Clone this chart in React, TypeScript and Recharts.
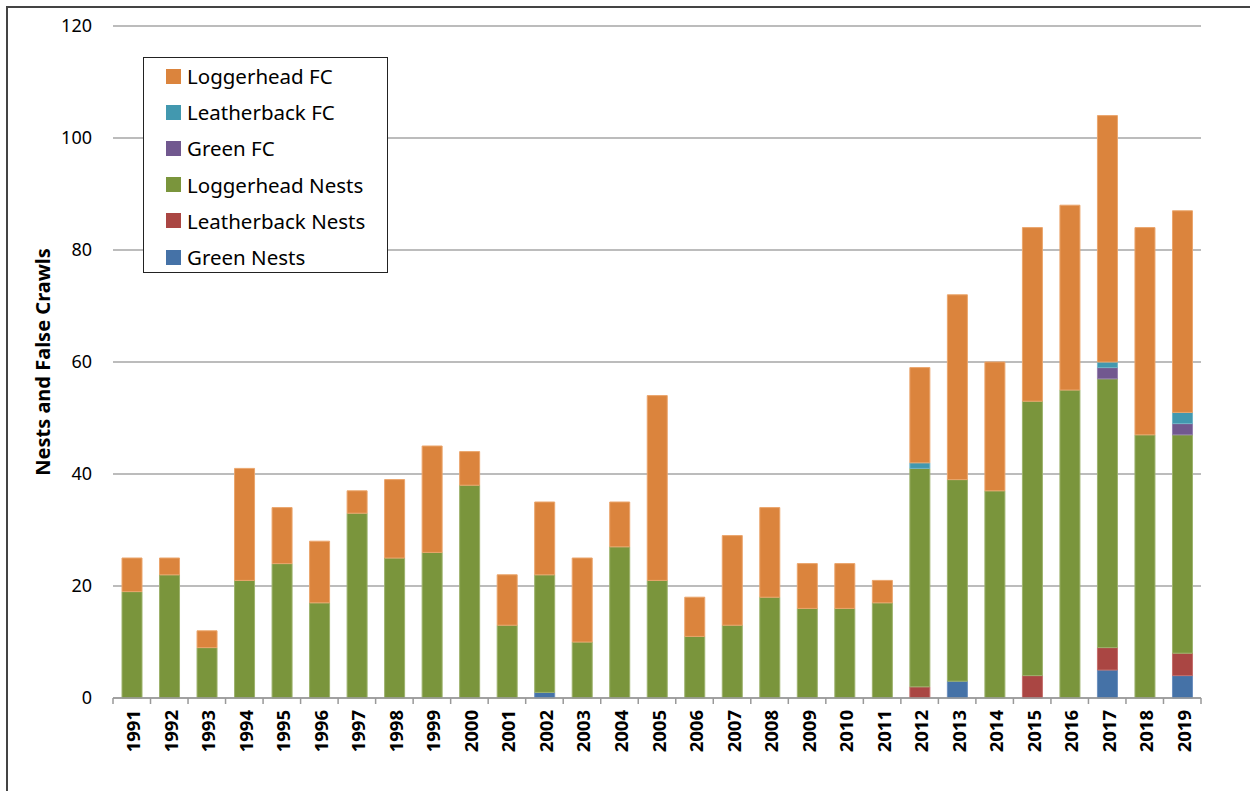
import React from "react";
import { BarChart, Bar, XAxis, YAxis, CartesianGrid, Legend, Label } from "recharts";

const years = ["1991","1992","1993","1994","1995","1996","1997","1998","1999","2000","2001","2002","2003","2004","2005","2006","2007","2008","2009","2010","2011","2012","2013","2014","2015","2016","2017","2018","2019"];
const greenNests = [0,0,0,0,0,0,0,0,0,0,0,1,0,0,0,0,0,0,0,0,0,0,3,0,0,0,5,0,4];
const leatherbackNests = [0,0,0,0,0,0,0,0,0,0,0,0,0,0,0,0,0,0,0,0,0,2,0,0,4,0,4,0,4];
const loggerheadNests = [19,22,9,21,24,17,33,25,26,38,13,21,10,27,21,11,13,18,16,16,17,39,36,37,49,55,48,47,39];
const greenFC = [0,0,0,0,0,0,0,0,0,0,0,0,0,0,0,0,0,0,0,0,0,0,0,0,0,0,2,0,2];
const leatherbackFC = [0,0,0,0,0,0,0,0,0,0,0,0,0,0,0,0,0,0,0,0,0,1,0,0,0,0,1,0,2];
const loggerheadFC = [6,3,3,20,10,11,4,14,19,6,9,13,15,8,33,7,16,16,8,8,4,17,33,23,31,33,44,37,36];
const yTicks = [0, 20, 40, 60, 80, 100, 120];

const data = years.map((y, i) => ({
  year: y,
  greenNests: greenNests[i],
  leatherbackNests: leatherbackNests[i],
  loggerheadNests: loggerheadNests[i],
  greenFC: greenFC[i],
  leatherbackFC: leatherbackFC[i],
  loggerheadFC: loggerheadFC[i],
}));

const series = [
  { key: "greenNests", name: "Green Nests", color: "#4572A7", edge: "#6C8FBE" },
  { key: "leatherbackNests", name: "Leatherback Nests", color: "#AA4643", edge: "#C46E6B" },
  { key: "loggerheadNests", name: "Loggerhead Nests", color: "#7A953C", edge: "#9DB26C" },
  { key: "greenFC", name: "Green FC", color: "#71588F", edge: "#9580AE" },
  { key: "leatherbackFC", name: "Leatherback FC", color: "#4298AF", edge: "#71B5C7" },
  { key: "loggerheadFC", name: "Loggerhead FC", color: "#DB843D", edge: "#EBA56C" },
];

const FONT = "'Noto Sans', 'Open Sans', sans-serif";
const STEP = 1088 / 29;

const XTick = (props: any) => {
  const { x, y, payload, index } = props;
  const left = x - STEP / 2;
  return (
    <g>
      <line x1={left} y1={y} x2={left} y2={y + 6} stroke="#999" strokeWidth={1.5} />
      {index === years.length - 1 && (
        <line x1={x + STEP / 2} y1={y} x2={x + STEP / 2} y2={y + 6} stroke="#999" strokeWidth={1.5} />
      )}
      <text
        transform={`translate(${x + 1},${y + 12}) rotate(-90)`}
        textAnchor="end"
        dominantBaseline="central"
        fontFamily={FONT}
        fontWeight="bold"
        fontSize={18.5}
        fill="#000"
      >
        {payload.value}
      </text>
    </g>
  );
};

const LegendBox = () => {
  const items = [...series].reverse();
  return (
    <div
      style={{
        width: 243,
        height: 214,
        border: "1.5px solid #222",
        background: "#fff",
        boxSizing: "content-box",
        fontFamily: FONT,
        fontSize: 20.5,
        color: "#000",
        position: "relative",
      }}
    >
      {items.map((s, i) => (
        <div
          key={s.key}
          style={{
            position: "absolute",
            left: 22,
            top: 18 + i * 36.2 - 13,
            height: 26,
            display: "flex",
            alignItems: "center",
            whiteSpace: "nowrap",
          }}
        >
          <span style={{ display: "inline-block", width: 15, height: 15, background: s.color, marginRight: 6 }} />
          <span>{s.name}</span>
        </div>
      ))}
    </div>
  );
};

export default function App() {
  return (
    <div
      style={{
        position: "absolute",
        left: 6,
        top: 6,
        width: 1260,
        height: 800,
        border: "2px solid #444",
        background: "#fff",
      }}
    >
      <BarChart
        width={1236}
        height={783}
        data={data}
        margin={{ top: 18, right: 43, left: 45, bottom: 33 }}
        barSize={20}
      >
        <CartesianGrid vertical={false} stroke="#A6A6A6" strokeWidth={1.5} />
        <XAxis
          dataKey="year"
          interval={0}
          height={60}
          tickSize={0}
          tickMargin={0}
          tickLine={false}
          axisLine={{ stroke: "#999", strokeWidth: 1.5 }}
          tick={<XTick />}
        />
        <YAxis
          domain={[0, 120]}
          ticks={yTicks}
          width={60}
          axisLine={false}
          tickLine={false}
          tickSize={0}
          tickMargin={21}
          tick={{ fontFamily: FONT, fontSize: 18, fill: "#000" }}
        >
          <Label
            value="Nests and False Crawls"
            angle={-90}
            position="insideLeft"
            offset={-10}
            style={{ fontFamily: FONT, fontWeight: "bold", fontSize: 20, fill: "#000", textAnchor: "middle" }}
          />
        </YAxis>
        <Legend
          layout="vertical"
          align="center"
          verticalAlign="middle"
          content={() => <LegendBox />}
          wrapperStyle={{ position: "absolute", left: 135, top: 49, width: 246, height: 217 }}
        />
        {series.map((s) => (
          <Bar
            key={s.key}
            dataKey={s.key}
            name={s.name}
            stackId="a"
            fill={s.color}
            stroke={s.edge}
            strokeWidth={1}
            isAnimationActive={false}
          />
        ))}
      </BarChart>
    </div>
  );
}
